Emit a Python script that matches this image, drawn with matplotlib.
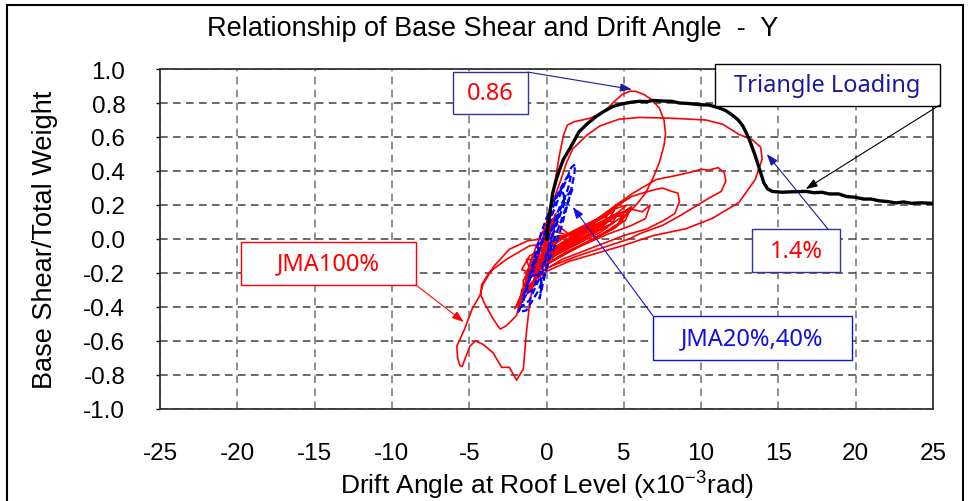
import numpy as np
import matplotlib
matplotlib.use('Agg')
import matplotlib.pyplot as plt
from matplotlib.patches import Rectangle

plt.rcParams['font.family'] = ['Liberation Sans', 'DejaVu Sans']
plt.rcParams['axes.unicode_minus'] = False

# 三角形荷重 (pushover)
tri_x = [0.0, 0.1, 0.25, 0.4, 0.6, 0.85, 1.1, 1.5, 1.8, 2.1, 2.6, 3.2, 3.7, 4.3, 4.9, 5.5,
         6.0, 6.5, 6.9, 7.4, 8.1, 8.6, 9.2, 9.9, 10.5, 11.2, 11.6, 12.0, 12.4, 12.7, 13.1,
         13.5, 13.85, 14.06, 14.3, 14.6, 15.2, 16.0, 16.8, 17.3, 17.8, 18.3, 18.9, 19.4,
         20.0, 20.5, 21.0, 21.5, 22.1, 22.6, 23.1, 23.6, 24.2, 24.9]
tri_y = [0.0, 0.08, 0.17, 0.27, 0.34, 0.41, 0.47, 0.53, 0.58, 0.63, 0.675, 0.72, 0.75, 0.78,
         0.795, 0.805, 0.81, 0.808, 0.815, 0.812, 0.81, 0.8, 0.797, 0.79, 0.788, 0.77, 0.755,
         0.73, 0.70, 0.665, 0.59, 0.49, 0.39, 0.33, 0.295, 0.28, 0.275, 0.278, 0.28, 0.272,
         0.275, 0.265, 0.265, 0.25, 0.245, 0.235, 0.235, 0.225, 0.22, 0.212, 0.218, 0.21,
         0.213, 0.21]

# JMA100%
jma100_x = [0.0, 0.4, -0.3, 0.6, -0.6, 0.3, 1.5, 2.8, 3.8, 4.3, 3.5, 2.2, 1.0, 0.0, -0.8, -1.2,
            -0.9, -0.2,
            0.2, 0.5, 0.85, 1.1, 1.35, 1.8, 2.3, 2.8, 3.3, 3.85, 4.4, 4.9, 5.4, 5.8, 6.3, 6.8,
            7.3, 7.6, 7.7, 7.6, 7.3, 6.9, 6.4, 5.8, 5.1, 4.2, 3.2, 2.0, 0.8, -0.2, -1.1, -2.6,
            -3.7, -4.2, -4.25, -4.0, -3.45, -3.0, -2.6, -2.26, -1.94, -1.6, -1.2, -0.7, -0.2, 0.5,
            1.8, 3.2, 4.2, 5.0, 4.5, 3.0, 1.5, 0.0, -1.2, -0.3, 1.0, -0.3, -1.2, -2.4, -3.4,
            -4.1, -4.3, -4.8, -5.3, -5.8, -5.75, -5.6, -5.45, -5.25, -4.95, -4.6, -4.1, -3.45,
            -2.9, -2.4, -1.94, -1.5, -1.3, -1.08, -0.87, -0.5, 0.1, 0.86, 1.3, 1.7, 2.6, 3.45,
            4.7, 6.0, 7.0, 8.15, 9.2, 10.3, 11.4, 12.45, 13.3, 13.85, 13.95, 13.5, 12.45, 10.7,
            9.0, 6.9, 4.9, 3.0, 1.5, 0.0, -1.0, -2.05, -1.08, -0.5,
            1.0, 3.0, 4.5, 5.6, 7.1, 8.2, 9.2, 10.0, 10.5, 11.1, 11.5, 11.6, 11.3, 10.5, 9.7,
            8.5, 7.5, 6.0, 5.35, 4.0, 2.0, 0.0, -1.3,
            -0.6, 1.0, 3.0, 4.5, 5.5, 6.2, 7.0, 7.5, 8.1, 8.5, 8.6, 8.3, 7.6, 6.5, 5.0, 3.0,
            1.0, -0.8,
            0.0, 2.0, 3.5, 4.5, 5.5, 6.2, 6.7, 6.4, 5.5, 4.0, 2.0, 0.0, -1.5,
            -1.5, -1.0, -0.6, -0.8, -1.3, -1.0,
            0.5, 2.0, 3.5, 4.6, 5.3, 4.8, 3.6, 2.0, 0.5, -0.8,
            0.2, 1.8, 3.2, 4.2, 5.0, 4.5, 3.0, 1.5, 0.0, -1.2,
            -0.3, 1.5, 3.0, 4.0, 4.7, 4.2, 2.8, 1.2, -0.2,
            1.0, 2.5, 3.8, 4.4, 3.5, 2.0, 0.5, -0.5,
            1.2, 2.8, 4.0, 3.6, 2.3, 0.8, -0.3,
            -1.6, -1.8, -1.3, -0.6, 0.4, 1.6, 2.9, 3.9, 4.8, 5.5, 5.1, 4.1, 2.6, 1.2, -0.2,
            -1.0, -1.6, -1.1, 0.0, 1.4, 2.7, 3.6, 4.4, 3.9, 2.4, 0.9, -0.4, -1.4,
            -0.9, 0.3, 2.0, 3.3, 4.5, 5.2, 4.3, 3.0, 1.6, 0.2, -0.6, 0.2]
jma100_y = [0.0, 0.12, -0.08, 0.15, -0.18, 0.05, 0.02, 0.07, 0.11, 0.13, 0.06, 0.0, -0.06,
            -0.14, -0.2, -0.24, -0.15, -0.02,
            0.15, 0.31, 0.5, 0.61, 0.67, 0.69, 0.70, 0.71, 0.73, 0.76, 0.81, 0.85, 0.87, 0.868,
            0.85, 0.82, 0.77, 0.70, 0.62, 0.55, 0.45, 0.36, 0.27, 0.2, 0.14, 0.09, 0.04, -0.01,
            -0.04, -0.03, -0.04, -0.12, -0.195, -0.27, -0.33, -0.38, -0.47, -0.53, -0.51, -0.48,
            -0.45, -0.33, -0.2, -0.05, 0.05, 0.1,
            0.0, 0.08, 0.13, 0.14, 0.07, 0.0, -0.07, -0.15, -0.22, -0.1, 0.02, 0.0, -0.01,
            -0.06, -0.16, -0.265, -0.33, -0.41, -0.53, -0.63, -0.7, -0.745, -0.75, -0.7, -0.63,
            -0.6, -0.62, -0.67, -0.755, -0.755, -0.83, -0.765, -0.55, -0.37, -0.27, -0.1, 0.14,
            0.33, 0.45, 0.53, 0.61, 0.665, 0.705, 0.715, 0.713, 0.71, 0.705, 0.70, 0.675, 0.615,
            0.585, 0.54, 0.47, 0.35, 0.215, 0.12, 0.06, 0.02, -0.04, -0.09, -0.13, -0.19, -0.26,
            -0.41, -0.22, -0.1,
            0.0, 0.1, 0.2, 0.27, 0.35, 0.37, 0.39, 0.41, 0.405, 0.42, 0.39, 0.34, 0.28, 0.24,
            0.195, 0.13, 0.08, 0.03, 0.0, -0.04, -0.1, -0.17, -0.29,
            -0.13, -0.02, 0.09, 0.19, 0.25, 0.27, 0.29, 0.3, 0.28, 0.27, 0.22, 0.15, 0.11, 0.06,
            0.02, -0.05, -0.12, -0.22,
            -0.1, 0.02, 0.09, 0.14, 0.175, 0.16, 0.2, 0.12, 0.08, 0.03, -0.05, -0.15, -0.24,
            -0.28, -0.3, -0.22, -0.12, -0.12, -0.2,
            -0.06, 0.03, 0.1, 0.15, 0.16, 0.1, 0.03, -0.05, -0.12, -0.2,
            -0.1, 0.0, 0.08, 0.13, 0.14, 0.07, 0.0, -0.07, -0.15, -0.22,
            -0.12, 0.0, 0.07, 0.12, 0.16, 0.09, 0.02, -0.06, -0.14,
            -0.04, 0.05, 0.11, 0.1, 0.04, -0.03, -0.1, -0.16,
            -0.02, 0.08, 0.15, 0.08, 0.0, -0.08, -0.12,
            -0.3, -0.4, -0.33, -0.2, -0.1, -0.03, 0.04, 0.1, 0.15, 0.19, 0.11, 0.05, -0.02,
            -0.08, -0.16,
            -0.2, -0.18, -0.1, -0.04, 0.02, 0.08, 0.12, 0.17, 0.1, 0.03, -0.05, -0.13, -0.23,
            -0.1, -0.02, 0.06, 0.12, 0.18, 0.2, 0.13, 0.06, -0.02, -0.1, -0.18, 0.0]

# JMA20%, 40%
jma20_x = [0.0, 0.9, 0.2, -0.5, -1.0, -0.3, 0.5, 1.2, 1.0, 0.3, -0.4, -1.2, -1.5, -0.9, -0.1,
           0.6, 1.4, 1.6, 1.3, 0.8, 0.4, -0.2, -0.8, -1.6, -1.8, -1.3, -0.5, 0.2, 0.9, 1.5,
           1.8, 1.85, 1.6, 1.2, 0.7, 0.1, -0.6, -1.3, -1.6, -1.1, -0.4, -0.3, -0.45, 0.3, 1.0,
           1.7, 0.9, 0.0]
jma20_y = [0.0, 0.15, 0.1, -0.05, -0.22, -0.2, 0.05, 0.22, 0.3, 0.2, 0.02, -0.25, -0.33,
           -0.3, -0.12, 0.1, 0.3, 0.38, 0.36, 0.28, 0.18, 0.0, -0.15, -0.38, -0.43, -0.42,
           -0.3, -0.12, 0.05, 0.25, 0.38, 0.44, 0.42, 0.33, 0.22, 0.08, -0.1, -0.3, -0.4,
           -0.36, -0.22, -0.27, -0.35, -0.05, 0.12, 0.3, 0.2, -0.02]

x_ticks = [-25, -20, -15, -10, -5, 0, 5, 10, 15, 20, 25]
y_ticks = [-1.0, -0.8, -0.6, -0.4, -0.2, 0.0, 0.2, 0.4, 0.6, 0.8, 1.0]

fig = plt.figure(figsize=(9.71, 5.02), dpi=100)
ax = fig.add_axes([160 / 971, 1 - 410 / 502, (933 - 160) / 971, (410 - 70) / 502])

ax.plot(jma100_x, jma100_y, color='#ff0000', lw=1.2, zorder=3)
ax.plot(jma20_x, jma20_y, color='#0000ff', lw=1.6, ls=(0, (3, 1.5)), zorder=4)
ax.plot(tri_x, tri_y, color='black', lw=2.4, zorder=5)

ax.set_xlim(-25, 25)
ax.set_ylim(-1.0, 1.0)
ax.set_xticks(x_ticks)
ax.set_xticklabels([str(v) for v in x_ticks])
ax.set_yticks(y_ticks)
ax.set_yticklabels(['%.1f' % v for v in y_ticks])
ax.tick_params(axis='y', direction='out', length=3, width=1, pad=22, labelsize=17.5)
ax.tick_params(axis='x', length=0, pad=24, labelsize=17.5)
ax.xaxis.grid(True, ls=(0, (5, 3.5)), lw=1.1, color='#707070')
ax.yaxis.grid(True, ls=(0, (5, 3.5)), lw=1.1, color='#404040')
ax.set_axisbelow(True)
for s in ax.spines.values():
    s.set_linewidth(1.3)
    s.set_color('#333333')

ax.set_xlabel('Drift Angle at Roof Level (x10$^{\\mathregular{-3}}$rad)', fontsize=19, va='center')
ax.xaxis.set_label_coords(0.5, (410 - 485) / 340)
ax.set_ylabel('Base Shear/Total Weight', fontsize=19.5, va='center')
ax.yaxis.set_label_coords((45 - 160) / 773, 0.5)
fig.text(493 / 971, 1 - 29 / 502, 'Relationship of Base Shear and Drift Angle  -  Y',
         ha='center', va='center', fontsize=19.5)

# 注釈ボックス
def box(x0, y0, x1, y1, text, tc, ec):
    ax.add_patch(Rectangle((x0, y1), x1 - x0, y0 - y1, facecolor='white', edgecolor=ec,
                           lw=1.0, clip_on=False, zorder=6))
    ax.text((x0 + x1) / 2, (y0 + y1) / 2, text, color=tc, ha='center', va='center',
            fontsize=17, family=['Noto Sans', 'DejaVu Sans'], zorder=7, clip_on=False)

def arrow(p0, p1, c):
    ax.annotate('', xy=p1, xytext=p0, annotation_clip=False, zorder=7,
                arrowprops=dict(arrowstyle='-|>,head_length=0.7,head_width=0.25', color=c,
                                lw=0.8, shrinkA=0, shrinkB=0))

box(-6.06, 0.984, -1.21, 0.735, '0.86', '#ff0000', '#3030a0')
arrow((-1.21, 0.982), (5.52, 0.88), '#1a1a9a')
box(10.88, 1.031, 25.43, 0.784, 'Triangle Loading', '#1a1a9a', 'black')
arrow((25.43, 0.788), (16.77, 0.294), 'black')
box(13.32, 0.059, 18.97, -0.196, '1.4%', '#ff0000', '#3030a0')
arrow((18.2, 0.059), (14.25, 0.5), '#1a1a9a')
box(6.88, -0.451, 19.75, -0.712, 'JMA20%,40%', '#1010e0', '#1010e0')
arrow((6.88, -0.451), (1.70, 0.188), '#1010e0')
box(-19.74, -0.016, -8.45, -0.27, 'JMA100%', '#ff0000', '#ff0000')
arrow((-8.45, -0.27), (-5.35, -0.488), '#ff0000')

fig.add_artist(Rectangle((7 / 971, -0.1), (963 - 7) / 971, 1.1 - 6 / 502,
                         transform=fig.transFigure, fill=False, lw=1.5, ec='black'))

fig.savefig('out.png', dpi=100)
